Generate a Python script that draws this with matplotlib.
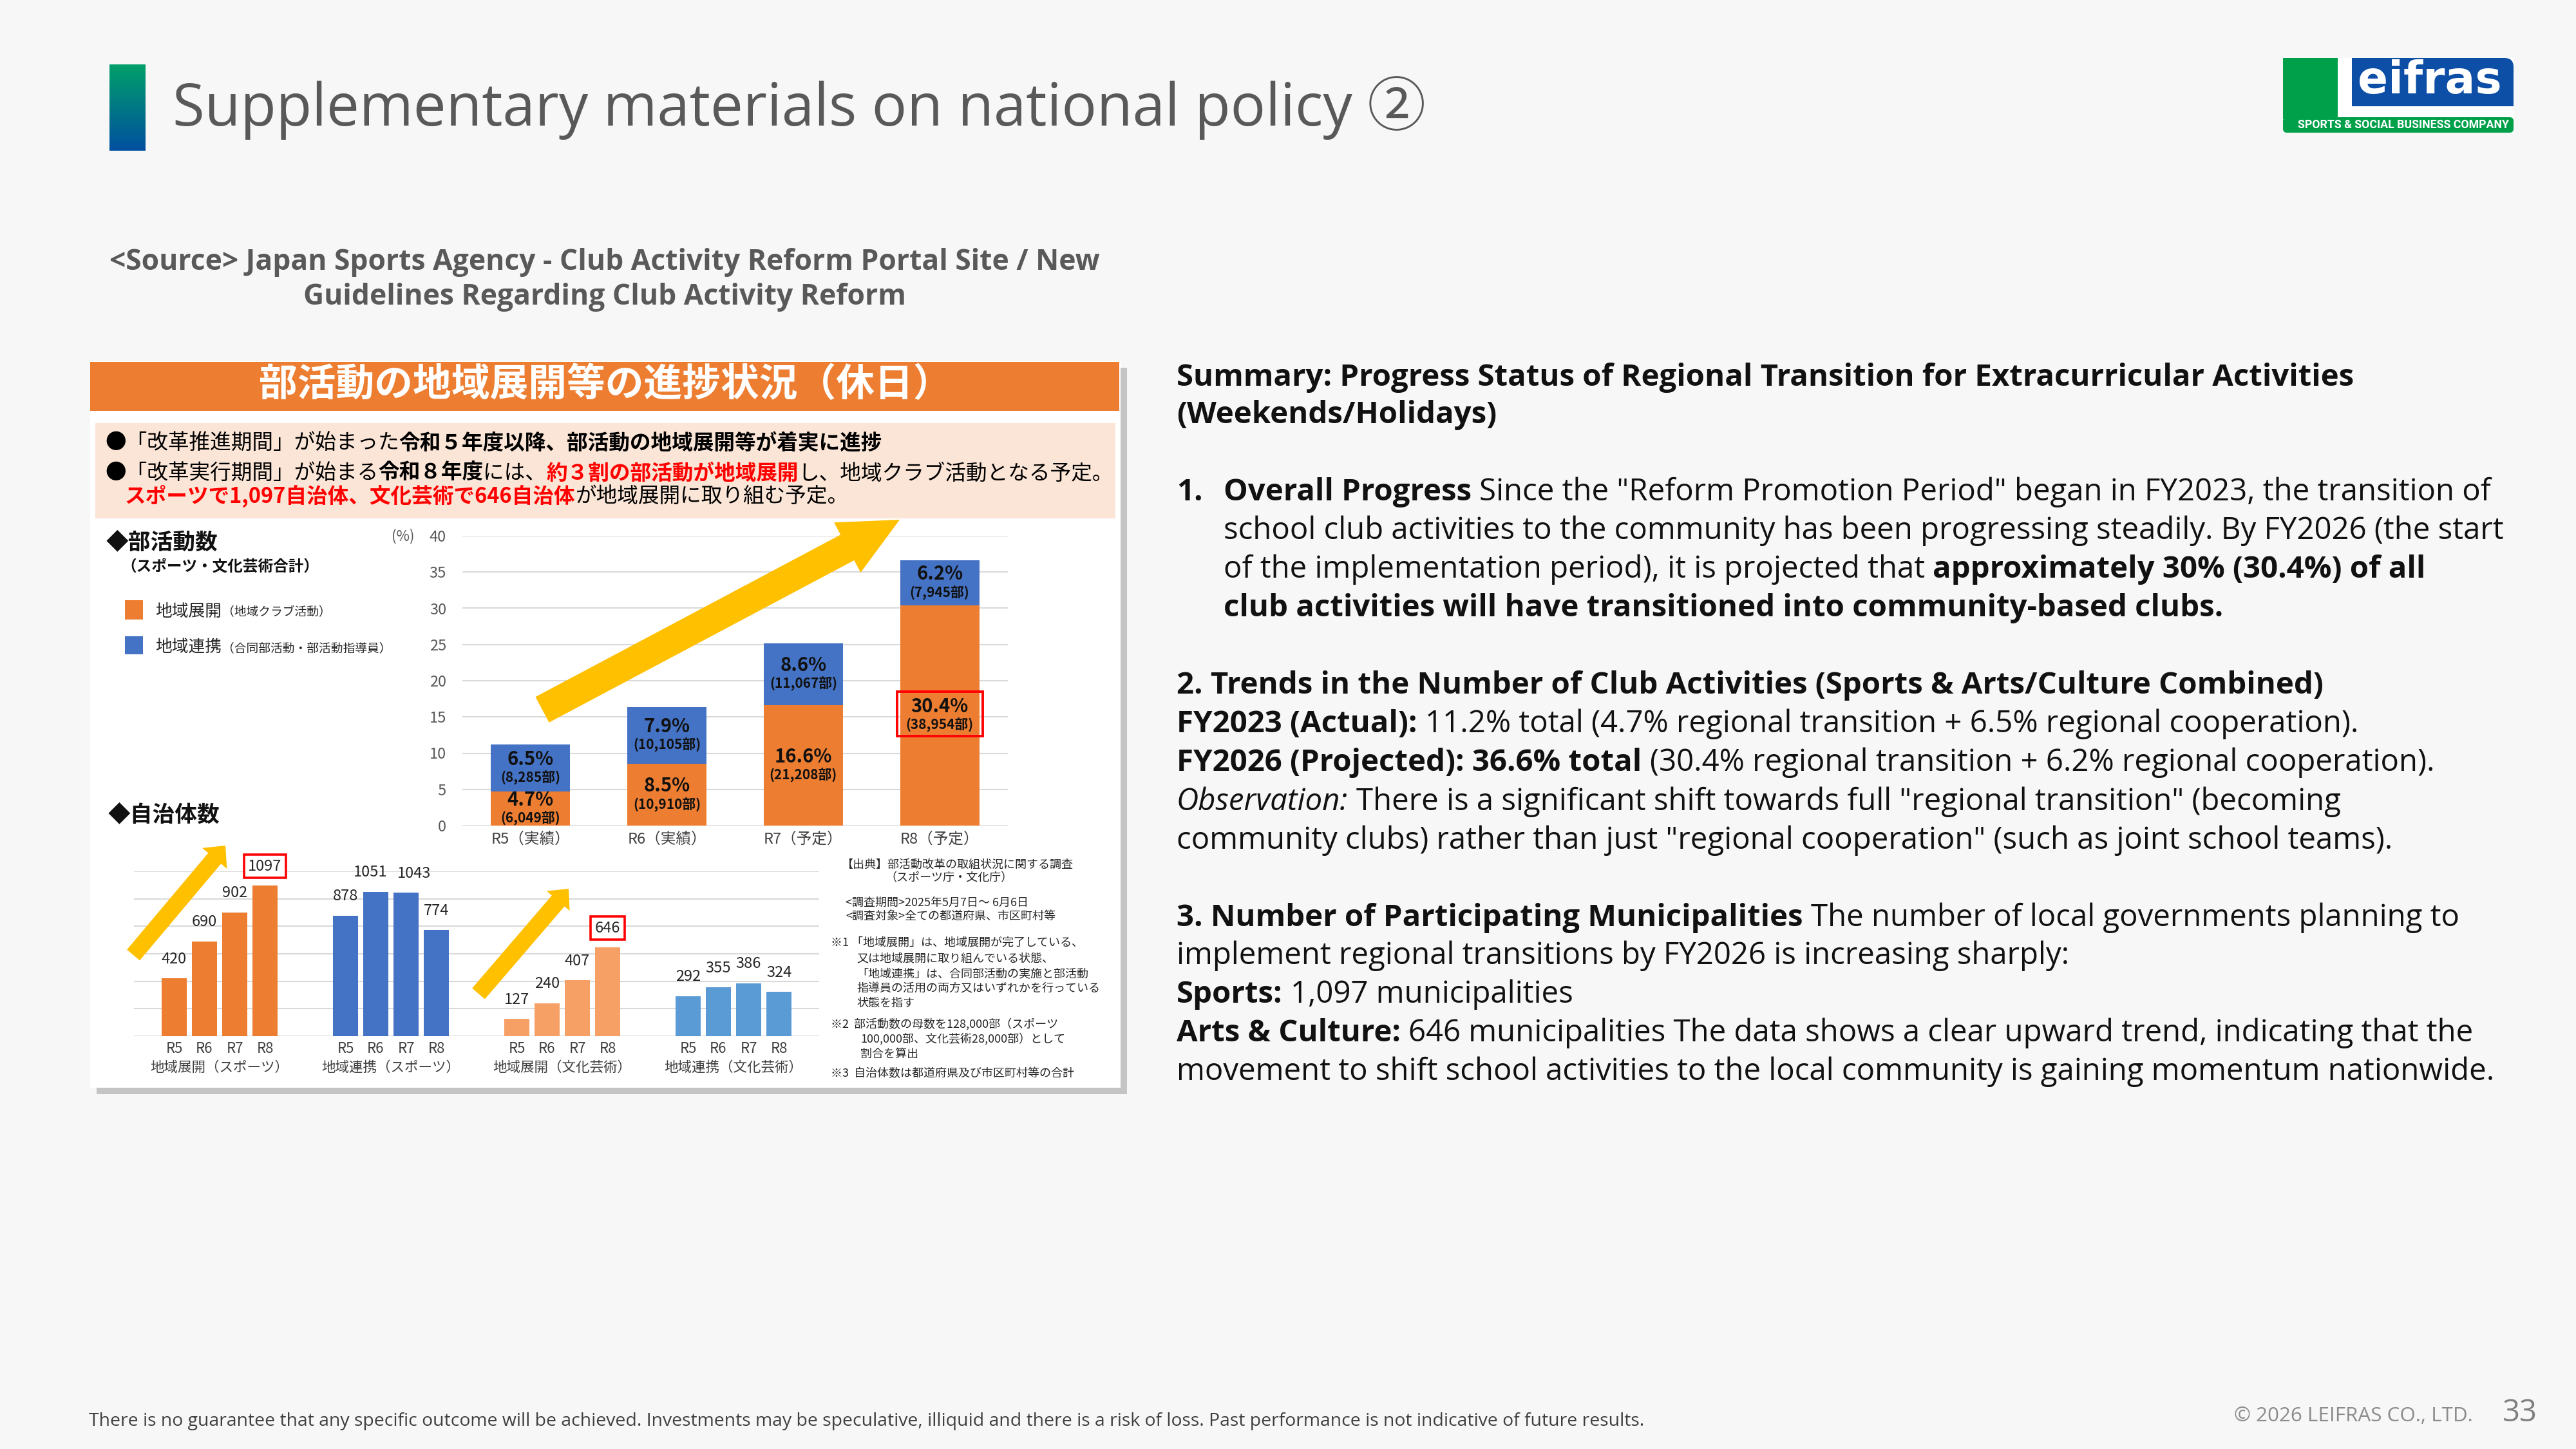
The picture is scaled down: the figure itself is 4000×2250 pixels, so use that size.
"""Slide 33 - supplementary materials on national policy (2): club activity regional transition."""
import matplotlib

matplotlib.use("Agg")
import matplotlib.pyplot as plt
import numpy as np
from matplotlib.colors import LinearSegmentedColormap
from matplotlib.patches import FancyBboxPatch, Polygon, Rectangle

W, H = 4000, 2250
JP = ["Noto Sans CJK JP", "DejaVu Sans"]
EN = ["Open Sans", "Noto Sans CJK JP", "DejaVu Sans"]

ORANGE = "#ed7d31"
BLUE = "#4472c4"
LIGHT_ORANGE = "#f7a066"
LIGHT_BLUE = "#5b9bd5"
YELLOW = "#ffc000"
RED = "#ff0000"

# ---- data ------------------------------------------------------------------
years = ["R5（実績）", "R6（実績）", "R7（予定）", "R8（予定）"]
transition_pct = [4.7, 8.5, 16.6, 30.4]
transition_clubs = ["6,049", "10,910", "21,208", "38,954"]
cooperation_pct = [6.5, 7.9, 8.6, 6.2]
cooperation_clubs = ["8,285", "10,105", "11,067", "7,945"]
pct_ticks = [0, 5, 10, 15, 20, 25, 30, 35, 40]

muni_years = ["R5", "R6", "R7", "R8"]
muni_groups = ["地域展開（スポーツ）", "地域連携（スポーツ）", "地域展開（文化芸術）", "地域連携（文化芸術）"]
sports_transition = [420, 690, 902, 1097]
sports_cooperation = [878, 1051, 1043, 774]
arts_transition = [127, 240, 407, 646]
arts_cooperation = [292, 355, 386, 324]
muni_ticks = [0, 200, 400, 600, 800, 1000, 1200]

fig = plt.figure(figsize=(W / 100, H / 100), dpi=100)
fig.patch.set_facecolor("#f7f7f7")
R = fig.canvas.get_renderer()


def px_axes(l, t, r, b):
    ax = fig.add_axes([l / W, 1 - b / H, (r - l) / W, (b - t) / H])
    ax.set_facecolor("none")
    return ax


def slide_axes():
    ax = fig.add_axes([0, 0, 1, 1])
    ax.set_xlim(0, W); ax.set_ylim(H, 0)
    ax.axis("off")
    return ax


def text_w(s, size, family, weight="normal", style="normal"):
    t = fig.text(0, 0, s, fontsize=size, family=family, fontweight=weight, fontstyle=style)
    w = t.get_window_extent(R).width
    t.remove()
    return w


def fit(s, target, family, weight="normal", base=40):
    return base * target / text_w(s, base, family, weight)


bg = slide_axes()

# ---- panel (embedded figure) ---------------------------------------------
bg.add_patch(Rectangle((150, 571), 1600, 1128, fc="#c4c4c4", ec="none"))
bg.add_patch(Rectangle((140, 561), 1600, 1128, fc="white", ec="none"))
bg.add_patch(Rectangle((140, 562), 1598, 76, fc=ORANGE, ec="none"))
bg.add_patch(Rectangle((148, 657), 1584, 148, fc="#fbe5d6", ec="none"))

# title accent bar
grad = LinearSegmentedColormap.from_list("acc", ["#00a06a", "#0050a0"])
bg.imshow(np.linspace(0, 1, 200).reshape(-1, 1), cmap=grad, extent=(170, 226, 234, 100),
          aspect="auto", origin="upper")
bg.set_xlim(0, W); bg.set_ylim(H, 0)

# logo
bg.add_patch(Rectangle((3545, 90), 358, 116, fc="white", ec="none"))
bg.add_patch(Rectangle((3545, 90), 85, 95, fc="#00a04a", ec="none"))
bg.add_patch(FancyBboxPatch((3545, 182), 358, 24, boxstyle="round,pad=0,rounding_size=6",
                            fc="#00a04a", ec="none"))
bg.add_patch(FancyBboxPatch((3652, 90), 251, 75, boxstyle="round,pad=0,rounding_size=14",
                            fc="#0d4ea6", ec="none"))
bg.add_patch(Rectangle((3652, 90), 40, 75, fc="#0d4ea6", ec="none"))
bg.add_patch(Rectangle((3652, 140), 251, 25, fc="#0d4ea6", ec="none"))

# ---- main stacked chart: club share (%) ----------------------------------
ax1 = px_axes(718, 832, 1565, 1282)
x = np.arange(len(years))
ax1.bar(x, transition_pct, 0.58, color=ORANGE, zorder=2)
ax1.bar(x, cooperation_pct, 0.58, bottom=transition_pct, color=BLUE, zorder=2)
ax1.set_xlim(-0.5, 3.5); ax1.set_ylim(0, 40)
ax1.set_yticks(pct_ticks)
ax1.set_yticklabels([str(v) for v in pct_ticks], fontsize=17, color="#595959", family=JP)
ax1.set_xticks(x)
ax1.set_xticklabels(years, fontsize=17, color="#404040", family=JP)
ax1.tick_params(axis="y", length=0, pad=18)
ax1.tick_params(axis="x", length=0, pad=7)
ax1.grid(axis="y", color="#d9d9d9", lw=1.5, zorder=0)
ax1.set_axisbelow(True)
for s in ax1.spines.values():
    s.set_visible(False)

bar_labels = []
for i in x:
    segs = [(transition_pct[i] / 2, transition_pct[i], transition_clubs[i]),
            (transition_pct[i] + cooperation_pct[i] / 2, cooperation_pct[i], cooperation_clubs[i])]
    pair = []
    for c, p, n in segs:
        a = ax1.annotate(f"{p:.1f}%", (i, c), xytext=(0, 10), textcoords="offset points",
                         ha="center", va="center", fontsize=21, fontweight="bold",
                         color="#111111", family=JP, zorder=4)
        b = ax1.annotate(f"({n}部)", (i, c), xytext=(0, -11), textcoords="offset points",
                         ha="center", va="center", fontsize=15, fontweight="bold",
                         color="#111111", family=JP, zorder=4)
        pair.append((a, b))
    bar_labels.append(pair)

# ---- small grouped chart: municipalities ---------------------------------
ax2 = px_axes(208, 1353, 1272, 1609)
groups = [sports_transition, sports_cooperation, arts_transition, arts_cooperation]
gcolors = [ORANGE, BLUE, LIGHT_ORANGE, LIGHT_BLUE]
offs = (np.arange(4) - 1.5) * 0.1767
label_dx = [[0, 0, 0, 0], [0, -6, 9, 0], [0, 0, 0, 0], [0, 0, 0, 0]]
highlight = {(0, 3), (2, 3)}
ticks_pos, ticks_lab = [], []
for g, vals in enumerate(groups):
    pos = g + offs
    ax2.bar(pos, vals, 0.150, color=gcolors[g], zorder=2)
    for j, v in enumerate(vals):
        kw = {}
        if (g, j) in highlight:
            kw["bbox"] = dict(boxstyle="square,pad=0.28", fc="white", ec=RED, lw=2.6)
        ax2.annotate(str(v), (pos[j], v), xytext=(label_dx[g][j], 21.5), textcoords="offset points",
                     ha="center", va="center", fontsize=17, color="#262626", family=JP,
                     annotation_clip=False, **kw)
    ticks_pos += list(pos); ticks_lab += muni_years
    ax2.annotate(muni_groups[g], (g, 0), xycoords=("data", "axes fraction"), xytext=(0, -35),
                 textcoords="offset points", ha="center", va="center", fontsize=15.5,
                 color="#404040", family=JP, annotation_clip=False)
ax2.set_xlim(-0.5, 3.5); ax2.set_ylim(0, 1200)
ax2.set_yticks(muni_ticks); ax2.set_yticklabels([])
ax2.set_xticks(ticks_pos)
ax2.set_xticklabels(ticks_lab, fontsize=16, color="#404040", family=JP)
ax2.tick_params(length=0)
ax2.tick_params(axis="x", pad=6)
ax2.grid(axis="y", color="#d9d9d9", lw=1.5, zorder=0)
ax2.set_axisbelow(True)
for s in ax2.spines.values():
    s.set_visible(False)

# ---- foreground: arrows, frames, all slide text --------------------------
fg = slide_axes()


def block_arrow(tail, tip, shaft_w, head_w, head_l, color=YELLOW):
    t = np.array(tail, float); p = np.array(tip, float)
    u = (p - t) / np.hypot(*(p - t)); n = np.array([-u[1], u[0]])
    b = p - u * head_l
    pts = [t + n * shaft_w / 2, b + n * shaft_w / 2, b + n * head_w / 2, p,
           b - n * head_w / 2, b - n * shaft_w / 2, t - n * shaft_w / 2]
    fg.add_patch(Polygon(pts, closed=True, fc=color, ec="none", zorder=3))


block_arrow((842, 1102), (1397, 807), 45, 88, 92)
block_arrow((207, 1483), (350, 1313), 26, 50, 26)
block_arrow((743, 1543), (883, 1380), 26, 47, 25)

# red frame round the R8 regional-transition label
a, b = bar_labels[3][0]
ea, eb = a.get_window_extent(R), b.get_window_extent(R)
x0, x1 = min(ea.x0, eb.x0) - 14, max(ea.x1, eb.x1) + 14
y0, y1 = H - max(ea.y1, eb.y1) - 8, H - min(ea.y0, eb.y0) + 6
fg.add_patch(Rectangle((x0, y0), x1 - x0, y1 - y0, fill=False, ec=RED, lw=2.8, zorder=5))


def rich(x, y, parts, size, family, color="#000000", k=0.36):
    base = y + k * size * 100 / 72
    for p in parts:
        txt = p[0]
        weight = p[1] if len(p) > 1 else "normal"
        style = p[2] if len(p) > 2 else "normal"
        col = p[3] if len(p) > 3 else color
        sp = text_w("x x", size, family, weight) - text_w("xx", size, family, weight)
        lead = len(txt) - len(txt.lstrip(" ")); trail = len(txt) - len(txt.rstrip(" "))
        x += lead * sp
        t = fg.text(x, base, txt.strip(" "), fontsize=size, family=family, fontweight=weight,
                    fontstyle=style, color=col, ha="left", va="baseline", zorder=6)
        x += t.get_window_extent(R).width + trail * sp
    return x


# panel header + peach box
fg.text(940, 598, "部活動の地域展開等の進捗状況（休日）", fontsize=43, fontweight="bold",
        color="white", family=JP, ha="center", va="center")
rich(163, 685, [("●「改革推進期間」が始まった",), ("令和５年度以降、部活動の地域展開等が着実に進捗", "bold")], 23.5, JP, k=0.38)
rich(163, 732, [("●「改革実行期間」が始まる",), ("令和８年度", "bold"), ("には、",),
                ("約３割の部活動が地域展開", "bold", "normal", RED), ("し、地域クラブ活動となる予定。",)],
     23.5, JP, k=0.38)
rich(194, 768, [("スポーツで1,097自治体、文化芸術で646自治体", "bold", "normal", RED),
                ("が地域展開に取り組む予定。",)], 23.5, JP, k=0.38)

# chart legends / headings
fg.text(165, 842, "◆部活動数", fontsize=25, fontweight="bold", family=JP, va="center", color="#111111")
fg.text(188, 880, "（スポーツ・文化芸術合計）", fontsize=17, fontweight="bold", family=JP, va="center",
        color="#111111")
fg.add_patch(Rectangle((194, 932), 28, 30, fc=ORANGE, ec="none"))
fg.add_patch(Rectangle((194, 988), 28, 28, fc=BLUE, ec="none"))
rich(241, 947, [("地域展開",)], 18.5, JP, color="#262626", k=0.38)
rich(345, 949, [("（地域クラブ活動）",)], 13.5, JP, color="#262626", k=0.38)
rich(241, 1003, [("地域連携",)], 18.5, JP, color="#262626", k=0.38)
rich(345, 1005, [("（合同部活動・部活動指導員）",)], 13.5, JP, color="#262626", k=0.38)
fg.text(626, 833, "(%)", fontsize=16, family=JP, ha="center", va="center", color="#595959")
fg.text(168, 1265, "◆自治体数", fontsize=25, fontweight="bold", family=JP, va="center", color="#111111")

# survey notes
notes = [
    (1307, 1342, "【出典】部活動改革の取組状況に関する調査"),
    (1374, 1363, "（スポーツ庁・文化庁）"),
    (1313, 1402, "<調査期間>2025年5月7日～ 6月6日"),
    (1313, 1423, "<調査対象>全ての都道府県、市区町村等"),
    (1290, 1463, "※1 「地域展開」は、地域展開が完了している、"),
    (1330, 1488, "又は地域展開に取り組んでいる状態、"),
    (1330, 1512, "「地域連携」は、合同部活動の実施と部活動"),
    (1330, 1535, "指導員の活用の両方又はいずれかを行っている"),
    (1330, 1558, "状態を指す"),
    (1290, 1590, "※2  部活動数の母数を128,000部（スポーツ"),
    (1336, 1613, "100,000部、文化芸術28,000部）として"),
    (1336, 1637, "割合を算出"),
    (1290, 1667, "※3  自治体数は都道府県及び市区町村等の合計"),
]
for nx, ny, s in notes:
    fg.text(nx, ny, s, fontsize=13, family=JP, va="center", color="#262626")

# ---- slide title, source, logo, footer -----------------------------------
ts = fit("Supplementary materials on national policy ②", 1944, EN)
fg.text(268, 168, "Supplementary materials on national policy ②", fontsize=ts, family=EN,
        color="#595959", va="center")

src1 = "<Source> Japan Sports Agency - Club Activity Reform Portal Site / New"
ss = fit(src1, 1534, EN, "bold")
fg.text(939, 407, src1, fontsize=ss, family=EN, fontweight="bold", color="#595959",
        ha="center", va="center")
fg.text(939, 462, "Guidelines Regarding Club Activity Reform", fontsize=ss, family=EN,
        fontweight="bold", color="#595959", ha="center", va="center")

ls = fit("eifras", 223, ["DejaVu Sans"], "bold")
fg.text(3773, 126, "eifras", fontsize=ls, family=["DejaVu Sans"], fontweight="bold",
        color="white", ha="center", va="center")
tg = fit("SPORTS & SOCIAL BUSINESS COMPANY", 329, ["Roboto"], "bold")
fg.text(3732, 194, "SPORTS & SOCIAL BUSINESS COMPANY", fontsize=tg, family=["Roboto"],
        fontweight="bold", color="white", ha="center", va="center")

disc = ("There is no guarantee that any specific outcome will be achieved. Investments may be "
        "speculative, illiquid and there is a risk of loss. Past performance is not indicative "
        "of future results.")
fs = fit(disc, 2418, EN)
fg.text(138, 2207, disc, fontsize=fs, family=EN, color="#404040", va="center")
cs = fit("© 2026 LEIFRAS CO., LTD.", 370, EN)
fg.text(3469, 2199, "© 2026 LEIFRAS CO., LTD.", fontsize=cs, family=EN, color="#8c8c8c", va="center")
fg.text(3913, 2194, "33", fontsize=34, family=EN, color="#7f7f7f", ha="center", va="center")

# ---- right-hand summary text ---------------------------------------------
body = fit("movement to shift school activities to the local community is gaining momentum nationwide.",
           2045, EN)
B, N, I = "bold", "normal", "italic"
summary = [
    (1827, 582, [("Summary: Progress Status of Regional Transition for Extracurricular Activities", B)]),
    (1827, 640, [("(Weekends/Holidays)", B)]),
    (1827, 760, [("1.", B)]),
    (1900, 760, [("Overall Progress", B), (" Since the \"Reform Promotion Period\" began in FY2023, the transition of", N)]),
    (1900, 820, [("school club activities to the community has been progressing steadily. By FY2026 (the start", N)]),
    (1900, 880, [("of the implementation period), it is projected that ", N), ("approximately 30% (30.4%) of all", B)]),
    (1900, 940, [("club activities will have transitioned into community-based clubs.", B)]),
    (1827, 1060, [("2. Trends in the Number of Club Activities (Sports & Arts/Culture Combined)", B)]),
    (1827, 1120, [("FY2023 (Actual):", B), (" 11.2% total (4.7% regional transition + 6.5% regional cooperation).", N)]),
    (1827, 1180, [("FY2026 (Projected): 36.6% total", B), (" (30.4% regional transition + 6.2% regional cooperation).", N)]),
    (1827, 1241, [("Observation:", N, I), (" There is a significant shift towards full \"regional transition\" (becoming", N)]),
    (1827, 1301, [("community clubs) rather than just \"regional cooperation\" (such as joint school teams).", N)]),
    (1827, 1421, [("3. Number of Participating Municipalities", B), (" The number of local governments planning to", N)]),
    (1827, 1480, [("implement regional transitions by FY2026 is increasing sharply:", N)]),
    (1827, 1540, [("Sports:", B), (" 1,097 municipalities", N)]),
    (1827, 1600, [("Arts & Culture:", B), (" 646 municipalities The data shows a clear upward trend, indicating that the", N)]),
    (1827, 1660, [("movement to shift school activities to the local community is gaining momentum nationwide.", N)]),
]
for sx, sy, parts in summary:
    rich(sx, sy, parts, body, EN, color="#111111")

fig.savefig("out.png", dpi=100, facecolor=fig.get_facecolor())
